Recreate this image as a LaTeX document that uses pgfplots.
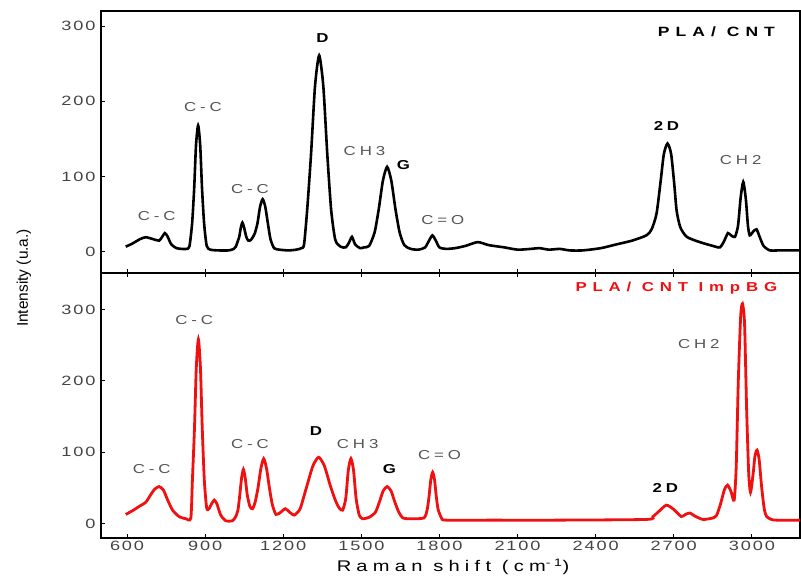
\documentclass[border=0pt]{standalone}
\usepackage{fontspec}
\setmainfont{Liberation Sans}
\newfontfamily\lblfont[FakeStretch=1.3, LetterSpace=30]{Liberation Sans}
\newfontfamily\titlefont[FakeStretch=1.3, LetterSpace=45]{Liberation Sans}
\newfontfamily\tickfont[FakeStretch=1.35, LetterSpace=14]{Liberation Sans}
\newfontfamily\xlabfont[FakeStretch=1.3, LetterSpace=34]{Liberation Sans}
\usepackage{pgfplots}
\pgfplotsset{compat=1.18}
\definecolor{lblgray}{HTML}{555555}
\definecolor{tickgray}{HTML}{444444}
\definecolor{myred}{HTML}{F01010}
\pgfplotsset{myax/.style={scale only axis, width=699bp, xmin=500, xmax=3185,
  xtick={600,900,...,3000}, ytick={0,100,200,300},
  tick align=inside, major tick length=4bp, minor tick num=0,
  axis line style={line width=1.1bp},
  every tick/.style={black, line width=0.9bp},
  tick label style={font=\tickfont\fontsize{13.5}{15}\selectfont, text=tickgray},
  /pgf/number format/assume math mode=true,
  /pgf/number format/1000 sep={},
  ytick pos=left,
  yticklabel style={xshift=-2bp},
  clip=false}}
\begin{document}
\begin{tikzpicture}
\useasboundingbox (0,0) rectangle (801bp,580bp);
% ---------- top panel ----------
\begin{axis}[myax, at={(101bp,307bp)}, anchor=south west, height=262bp,
  ymin=-28, ymax=320, xtick pos=bottom, xticklabels={}]
\addplot[black, line width=2.6bp, smooth, tension=0.4] coordinates {
(595,7)(620,11)(650,17)(672,19.5)(700,17)(723,15)(735,20)(745,25)(755,21)(770,10)(790,5)(810,4)(830,4)
(840,8)(850,38)(858,85)(865,142)(873,168)(881,142)(888,85)(896,38)(906,8)(920,3)(950,2)(990,2)(1010,4)
(1018,7)(1025,14)(1031,20)(1037,32)(1043,39)(1050,32)(1058,20)(1066,15)
(1076,16)(1090,24)(1101,38)(1111,60)(1121,70)(1131,60)(1141,38)(1151,17)(1165,5)(1185,3)(1220,2)(1250,3)(1270,5)
(1280,10)(1292,56)(1307,131)(1322,220)(1338,261)(1354,220)(1369,131)(1384,56)(1400,16)(1420,7)(1440,6)
(1452,12)(1464,20)(1476,10)(1495,5)(1510,6)
(1530,8)(1551,26)(1567,57)(1583,95)(1599,113)(1615,95)(1631,57)(1647,26)(1665,9)(1690,4)(1720,3)
(1745,6)(1760,15)(1773,22)(1786,15)(1800,6)(1826,4)(1860,5)(1900,8)(1947,13)(1990,9)(2050,6)(2100,3)
(2150,4)(2185,5)(2220,3)(2262,4)(2300,2)(2350,2)(2420,5)(2480,10)(2540,15)(2595,22)(2615,30)(2634,51)
(2650,95)(2662,130)(2676,144)(2690,130)(2702,90)(2711,55)(2725,33)(2750,20)(2800,13)(2850,8)(2877,6)
(2893,14)(2908,25)(2920,22)(2935,20)(2947,35)(2957,72)(2967,93)(2977,70)(2985,35)(2992,22)(3005,27)
(3018,30)(3030,20)(3045,8)(3069,2)(3100,2)(3185,2)
};
\begin{scope}[every node/.style={font=\lblfont\fontsize{13}{15}\selectfont, text=lblgray}]
\node at (axis cs:714,48) {C-C};
\node at (axis cs:892,193) {C-C};
\node at (axis cs:1072,84) {C-C};
\node at (axis cs:1512,134) {CH3};
\node at (axis cs:1813,43) {C=O};
\node at (axis cs:2957,122) {CH2};
\end{scope}
\begin{scope}[every node/.style={font=\lblfont\bfseries\fontsize{13}{15}\selectfont, text=black}]
\node at (axis cs:1351,284) {D};
\node at (axis cs:1662,115) {G};
\node at (axis cs:2672,167) {2D};
\end{scope}
\node[font=\titlefont\bfseries\fontsize{13.5}{15}\selectfont, text=black] at (axis cs:2864,293) {PLA/ CNT};
\end{axis}
% ---------- bottom panel ----------
\begin{axis}[myax, at={(101bp,42bp)}, anchor=south west, height=265bp,
  ymin=-20, ymax=351, xtick pos=both]
\addplot[myred, line width=2.8bp, smooth, tension=0.4] coordinates {
(595,13)(620,18)(650,25)(672,30)(690,40)(705,48)(723,52)(740,47)(755,34)(775,19)(800,10)(826,7)(845,8)
(851,60)(859,133)(866,218)(874,258)(882,218)(889,133)(897,60)(906,22)(915,21)(925,28)(935,33)(945,28)
(960,12)(980,4)(1004,4)
(1016,9)(1026,19)(1033,40)(1040,64)(1047,76)(1054,64)(1062,40)(1072,24)(1082,21)(1092,30)(1103,50)
(1114,77)(1125,91)(1136,77)(1147,50)(1158,27)(1172,13)(1190,16)(1208,21)(1225,16)(1242,12)
(1260,18)(1268,24)(1291,53)(1314,81)(1336,93)(1358,81)(1381,53)(1400,33)(1415,22)(1428,19)
(1440,35)(1450,75)(1460,91)(1470,75)(1480,35)(1492,12)(1505,7)(1530,9)
(1554,16)(1569,30)(1584,46)(1599,52)(1614,46)(1629,30)(1644,16)(1660,8)(1685,7)
(1740,8)(1753,20)(1760,38)(1767,62)(1774,72)(1781,62)(1788,38)(1795,20)(1808,8)(1826,5)
(2000,5)(2250,5)(2595,6)(2620,10)(2645,18)(2672,26)(2700,20)(2729,10)(2745,13)(2762,15)(2780,11)
(2812,6)(2850,8)(2865,12)(2880,28)(2895,48)(2907,54)(2920,45)(2932,33)(2940,80)(2948,200)(2957,290)
(2964,308)(2972,280)(2980,160)(2988,70)(2995,44)(3005,70)(3012,95)(3020,103)(3028,90)(3038,50)
(3048,20)(3057,10)(3075,6)(3095,5)(3185,5)
};
\begin{scope}[every node/.style={font=\lblfont\fontsize{13}{15}\selectfont, text=lblgray}]
\node at (axis cs:695,76) {C-C};
\node at (axis cs:858,285) {C-C};
\node at (axis cs:1072,112) {C-C};
\node at (axis cs:1486,112) {CH3};
\node at (axis cs:1800,96) {C=O};
\node at (axis cs:2796,251) {CH2};
\end{scope}
\begin{scope}[every node/.style={font=\lblfont\bfseries\fontsize{13}{15}\selectfont, text=black}]
\node at (axis cs:1326,130) {D};
\node at (axis cs:1608,77) {G};
\node at (axis cs:2668,50) {2D};
\end{scope}
\node[font=\titlefont\bfseries\fontsize{13}{15}\selectfont, text=myred] at (axis cs:2710,330) {PLA/ CNT ImpBG};
\end{axis}
\node[rotate=90, font=\fontsize{15.5}{17}\selectfont] at (24bp,302bp) {Intensity (u.a.)};
\node[font=\xlabfont\fontsize{15.5}{17}\selectfont] at (453bp,13bp) {Raman shift (cm\textsuperscript{-1})};
\end{tikzpicture}
\end{document}
